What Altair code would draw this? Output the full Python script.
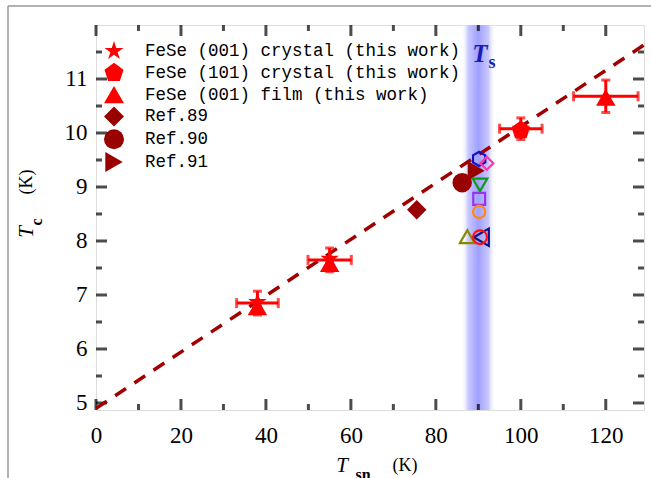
import altair as alt
import pandas as pd

# ---------------- data ----------------
series_names = ["FeSe (001) crystal (this work)", "FeSe (101) crystal (this work)",
                "FeSe (001) film (this work)", "Ref.89", "Ref.90", "Ref.91"]
series_colors = ["#ff0000", "#ff0000", "#ff0000", "#990000", "#990000", "#990000"]

star_x = [38, 55, 100]
star_y = [6.87, 7.67, 10.08]
pent_x = [100]
pent_y = [10.05]
film_x = [38, 55, 120]
film_y = [6.78, 7.58, 10.66]
ref89_x = [75.5]
ref89_y = [8.58]
ref90_x = [86.2]
ref90_y = [9.08]
ref91_x = [89.5]
ref91_y = [9.3]

err_x = [38, 55, 100, 120]
err_y = [6.85, 7.65, 10.08, 10.68]
err_dx = [4.9, 5.1, 5.0, 7.6]
err_dy = [0.22, 0.22, 0.2, 0.3]

open_x = [90.2, 92.0, 90.4, 90.2, 90.2, 87.4, 90.7, 90.4]
open_y = [9.52, 9.44, 9.04, 8.78, 8.54, 8.08, 8.07, 8.07]
open_colors = ["#1010c8", "#ff33aa", "#119911", "#9933ee", "#ff8811", "#888800", "#101080", "#ff1111"]

fit_x = [0, 129]
fit_y = [4.9, 11.63]

ts_band = [86.0, 94.0]

x_major = [0, 20, 40, 60, 80, 100, 120]
x_minor = [10, 30, 50, 70, 90, 110]
y_major = [5, 6, 7, 8, 9, 10, 11]
y_minor = [5.5, 6.5, 7.5, 8.5, 9.5, 10.5, 11.5]

# ---------------- shapes ----------------
STAR = ("M0,-1L0.2245,-0.309L0.951,-0.309L0.363,0.118L0.588,0.809L0,0.382"
        "L-0.588,0.809L-0.363,0.118L-0.951,-0.309L-0.2245,-0.309Z")
PENT = "M0,-1L0.951,-0.309L0.588,0.809L-0.588,0.809L-0.951,-0.309Z"
HEX = "M0,-1L0.866,-0.5L0.866,0.5L0,1L-0.866,0.5L-0.866,-0.5Z"
series_shapes = [STAR, PENT, "triangle-up", "diamond", "circle", "triangle-right"]
open_shapes = [HEX, "diamond", "triangle-down", "square", "circle", "triangle-up",
               "triangle-left", "circle"]
open_sizes = [200, 170, 210, 140, 150, 220, 300, 190]

W, H = 548, 385
SERIF = "Liberation Serif"

xs = alt.Scale(domain=[0, 129], nice=False, zero=False)
ys = alt.Scale(domain=[4.87, 12.0], nice=False, zero=False)
xa = alt.Axis(values=x_major, ticks=False, domain=False, grid=False, labelFont=SERIF,
              labelFontSize=23, labelColor="black", labelPadding=14, labelFlush=False,
              title=None)
ya = alt.Axis(values=y_major, ticks=False, domain=False, grid=False, labelFont=SERIF,
              labelFontSize=23, labelColor="black", labelPadding=9, labelFlush=False,
              title=None)


def X(f):
    return alt.X(f"{f}:Q", scale=xs, axis=xa)


def Y(f):
    return alt.Y(f"{f}:Q", scale=ys, axis=ya)


# ---------------- tables ----------------
pts = pd.concat([
    pd.DataFrame({"x": star_x, "y": star_y, "s": series_names[0], "o": 0}),
    pd.DataFrame({"x": pent_x, "y": pent_y, "s": series_names[1], "o": 1}),
    pd.DataFrame({"x": film_x, "y": film_y, "s": series_names[2], "o": 2}),
    pd.DataFrame({"x": ref89_x, "y": ref89_y, "s": series_names[3], "o": 3}),
    pd.DataFrame({"x": ref90_x, "y": ref90_y, "s": series_names[4], "o": 4}),
    pd.DataFrame({"x": ref91_x, "y": ref91_y, "s": series_names[5], "o": 5}),
], ignore_index=True)
draw_rank = {2: 0, 1: 1, 0: 2, 3: 3, 4: 5, 5: 4}
pts["r"] = pts["o"].map(draw_rank)
pts = pts.sort_values("r")

err = pd.DataFrame({"x": err_x, "y": err_y,
                    "xlo": [a - b for a, b in zip(err_x, err_dx)],
                    "xhi": [a + b for a, b in zip(err_x, err_dx)],
                    "ylo": [a - b for a, b in zip(err_y, err_dy)],
                    "yhi": [a + b for a, b in zip(err_y, err_dy)]})
fit = pd.DataFrame({"x": fit_x, "y": fit_y})
band = pd.DataFrame({"x": [ts_band[0]], "x2": [ts_band[1]]})
one = pd.DataFrame({"a": [0]})

# ---------------- layers ----------------
grad = alt.LinearGradient(
    gradient="linear", x1=0, x2=1, y1=0, y2=0,
    stops=[alt.GradientStop(color="rgba(255,255,255,0)", offset=0),
           alt.GradientStop(color="rgba(200,200,255,1)", offset=0.2),
           alt.GradientStop(color="rgba(160,160,255,1)", offset=0.5),
           alt.GradientStop(color="rgba(200,200,255,1)", offset=0.8),
           alt.GradientStop(color="rgba(255,255,255,0)", offset=1)])
band_layer = alt.Chart(band).mark_rect(color=grad).encode(
    x=X("x"), x2="x2", y=alt.value(0), y2=alt.value(H))

fit_layer = alt.Chart(fit).mark_line(color="#a00000", strokeWidth=3.5,
                                     strokeDash=[13, 10]).encode(x=X("x"), y=Y("y"))

ex = alt.Chart(err).mark_rule(color="#ff0000", strokeWidth=3).encode(
    x=X("xlo"), x2="xhi", y=Y("y"))
ey = alt.Chart(err).mark_rule(color="#ff0000", strokeWidth=3).encode(
    x=X("x"), y=Y("ylo"), y2="yhi")
cap_xlo = alt.Chart(err).mark_tick(color="#ff0000", orient="vertical", size=10, thickness=3).encode(
    x=X("xlo"), y=Y("y"))
cap_xhi = alt.Chart(err).mark_tick(color="#ff0000", orient="vertical", size=10, thickness=3).encode(
    x=X("xhi"), y=Y("y"))
cap_ylo = alt.Chart(err).mark_tick(color="#ff0000", orient="horizontal", size=9, thickness=3).encode(
    x=X("x"), y=Y("ylo"))
cap_yhi = alt.Chart(err).mark_tick(color="#ff0000", orient="horizontal", size=9, thickness=3).encode(
    x=X("x"), y=Y("yhi"))

pt_layer = alt.Chart(pts).mark_point(filled=True, opacity=1, size=380).encode(
    x=X("x"), y=Y("y"),
    order=alt.Order("r:Q"),
    color=alt.Color("s:N", scale=alt.Scale(domain=series_names, range=series_colors),
                    sort=series_names,
                    legend=alt.Legend(orient="none", legendX=8, legendY=16, title=None,
                                      labelFont="Liberation Mono", labelFontSize=17.5,
                                      labelColor="black", symbolSize=400,
                                      symbolStrokeWidth=0, rowPadding=2.8, labelOffset=21,
                                      labelLimit=0, padding=0, symbolOpacity=1)),
    shape=alt.Shape("s:N", scale=alt.Scale(domain=series_names, range=series_shapes),
                    sort=series_names),
)

open_layers = []
for ox, oy, oc, osh, osz in zip(open_x, open_y, open_colors, open_shapes, open_sizes):
    d = pd.DataFrame({"x": [ox], "y": [oy]})
    open_layers.append(alt.Chart(d).mark_point(shape=osh, color=oc, filled=False,
                                                strokeWidth=2.2, size=osz, opacity=1)
                       .encode(x=X("x"), y=Y("y")))

# frame ticks (inward)
xt_major = pd.DataFrame({"tx": x_major})
xt_minor = pd.DataFrame({"tx": x_minor})
yt_major = pd.DataFrame({"ty": y_major})
yt_minor = pd.DataFrame({"ty": y_minor})


def xticks(df, ln):
    b = alt.Chart(df).mark_tick(color="black", orient="vertical", size=ln, thickness=3)
    return [b.encode(x=X("tx"), y=alt.value(H - ln / 2)),
            b.encode(x=X("tx"), y=alt.value(ln / 2))]


def yticks(df, ln):
    b = alt.Chart(df).mark_tick(color="black", orient="horizontal", size=ln, thickness=3)
    return [b.encode(y=Y("ty"), x=alt.value(ln / 2)),
            b.encode(y=Y("ty"), x=alt.value(W - ln / 2))]


tick_layers = (xticks(xt_major, 11) + xticks(xt_minor, 6) +
               yticks(yt_major, 11) + yticks(yt_minor, 6))


def txt(s, px, py, size, style="normal", weight="normal", angle=0, color="black"):
    return alt.Chart(one).mark_text(text=s, font=SERIF, fontSize=size, fontStyle=style,
                                    fontWeight=weight, angle=angle, color=color,
                                    align="center", baseline="middle").encode(
        x=alt.value(px), y=alt.value(py))


text_layers = [
    txt("T", 384, 29, 25, style="italic", weight="bold", color="#1a1ab8"),
    txt("s", 396, 38, 18, weight="bold", color="#1a1ab8"),
    txt("T", -69, 207, 21, style="italic", angle=270),
    txt("c", -59, 197, 16, weight="bold", angle=270),
    txt("(K)", -69, 157, 18, angle=270),
    txt("T", 246, 441, 21, style="italic"),
    txt("sn", 267, 450, 16, weight="bold"),
    txt("(K)", 309, 441, 18),
]

border = [
    alt.Chart(one).mark_rule(color="#999999", strokeWidth=1.5).encode(
        x=alt.value(-88), y=alt.value(-19), y2=alt.value(H + 68)),
    alt.Chart(one).mark_rule(color="#999999", strokeWidth=1.5).encode(
        x=alt.value(-88), x2=alt.value(W + 7), y=alt.value(-19)),
]

chart = alt.layer(
    band_layer, *tick_layers, fit_layer, ex, ey, cap_xlo, cap_xhi, cap_ylo, cap_yhi,
    *open_layers, pt_layer, *text_layers, *border
).properties(
    width=W, height=H,
    autosize=alt.AutoSizeParams(type="none"),
    padding={"left": 96, "top": 25, "right": 7, "bottom": 68},
).configure_view(stroke="black", strokeWidth=3).configure(background="white")

chart.save("out.html", embed_options={"renderer": "svg", "actions": False})
